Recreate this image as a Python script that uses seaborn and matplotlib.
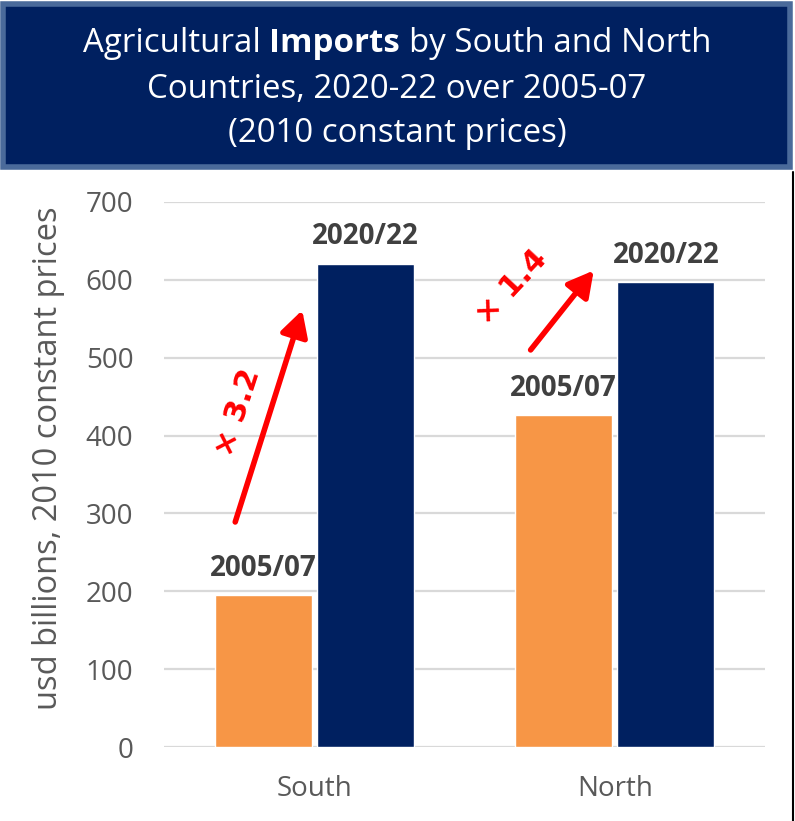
import matplotlib
matplotlib.use('Agg')
import matplotlib.pyplot as plt
from matplotlib.patches import Rectangle
from matplotlib.lines import Line2D
import seaborn as sns
import pandas as pd

# values (usd billions, 2010 constant prices)
regions = ['South', 'North']
periods = ['2005/07', '2020/22']
imports_0507 = [195, 426]
imports_2022 = [621, 597]

# growth arrows: (start x, start y) -> (end x, end y) in data units, and the label
growth_labels = ['× 3.2', '× 1.4']
arrow_start = [(-0.263, 289), (0.72, 510)]
arrow_end = [(-0.04, 561), (0.93, 612)]
label_pos = [(-0.255, 429), (0.655, 590)]
label_rot = [72, 47]

df = pd.DataFrame({
    'region': regions * 2,
    'period': [periods[0]] * 2 + [periods[1]] * 2,
    'value': imports_0507 + imports_2022,
})

sns.set_style('white')
plt.rcParams['font.family'] = ['Open Sans', 'DejaVu Sans']

fig = plt.figure(figsize=(7.95, 8.21), dpi=100)
ax = fig.add_axes([164 / 795, 1 - 747 / 821, 601 / 795, 545 / 821])

sns.barplot(data=df, x='region', y='value', hue='period', order=regions,
            hue_order=periods, palette={'2005/07': '#F79646', '2020/22': '#002060'},
            saturation=1, width=0.68, gap=0.05, legend=False, ax=ax)

ax.set_ylim(0, 700)
ax.set_xlim(-0.5, 1.5)
ax.set_yticks(range(0, 701, 100))
ax.yaxis.grid(True, color='#d9d9d9', lw=1.6)
ax.set_axisbelow(True)
sns.despine(ax=ax, left=True, bottom=True)
ax.tick_params(axis='y', length=0, pad=22, labelsize=20, labelcolor='#595959')
ax.tick_params(axis='x', length=0, pad=20, labelsize=20, labelcolor='#595959')
ax.set_xlabel('')
ax.set_ylabel('usd billions, 2010 constant prices', fontsize=23.5, color='#595959')
ax.yaxis.set_label_coords(-0.165, 0.53)

for cont, per in zip(ax.containers, periods):
    ax.bar_label(cont, labels=[per] * len(cont), padding=9, fontsize=20,
                 fontweight='bold', color='#404040')

for s, e, t, p, r in zip(arrow_start, arrow_end, growth_labels, label_pos, label_rot):
    ax.annotate('', xy=e, xytext=s,
                arrowprops=dict(arrowstyle='-|>,head_length=0.55,head_width=0.3',
                                color='red', lw=4, mutation_scale=28,
                                shrinkA=0, shrinkB=0))
    ax.text(p[0], p[1], t, rotation=r, color='red', fontsize=22, fontweight='bold',
            family='DejaVu Sans', ha='center', va='center', rotation_mode='anchor')

# title box
fig.patches.append(Rectangle((3 / 795, 1 - 167 / 821), 787 / 795, 163 / 821,
                             transform=fig.transFigure, facecolor='#002060',
                             edgecolor='#4a6a9a', lw=4, zorder=0))
fig.lines.append(Line2D([793 / 795, 793 / 795], [0, 1 - 172 / 821],
                        transform=fig.transFigure, color='black', lw=1.5))

title_size = 23.8
renderer = fig.canvas.get_renderer()
parts = [('Agricultural', 'normal'), ('Imports', 'bold'), ('by South and North', 'normal')]
tmp = [fig.text(0, 0, p, fontsize=title_size, fontweight=w) for p, w in parts]
widths = [t.get_window_extent(renderer).width for t in tmp]
sp = fig.text(0, 0, 'a a', fontsize=title_size)
sp2 = fig.text(0, 0, 'aa', fontsize=title_size)
space = sp.get_window_extent(renderer).width - sp2.get_window_extent(renderer).width
for t in tmp + [sp, sp2]:
    t.remove()
total = sum(widths) + 2 * space
x = 397 - total / 2
y1 = 1 - 43 / 821
for (p, w), wd in zip(parts, widths):
    fig.text(x / 795, y1, p, fontsize=title_size, fontweight=w, color='white',
             ha='left', va='center')
    x += wd + space
fig.text(397 / 795, 1 - 89 / 821, 'Countries, 2020-22 over 2005-07', fontsize=title_size,
         color='white', ha='center', va='center')
fig.text(397 / 795, 1 - 133 / 821, '(2010 constant prices)', fontsize=title_size,
         color='white', ha='center', va='center')

fig.savefig('out.png', dpi=100)
